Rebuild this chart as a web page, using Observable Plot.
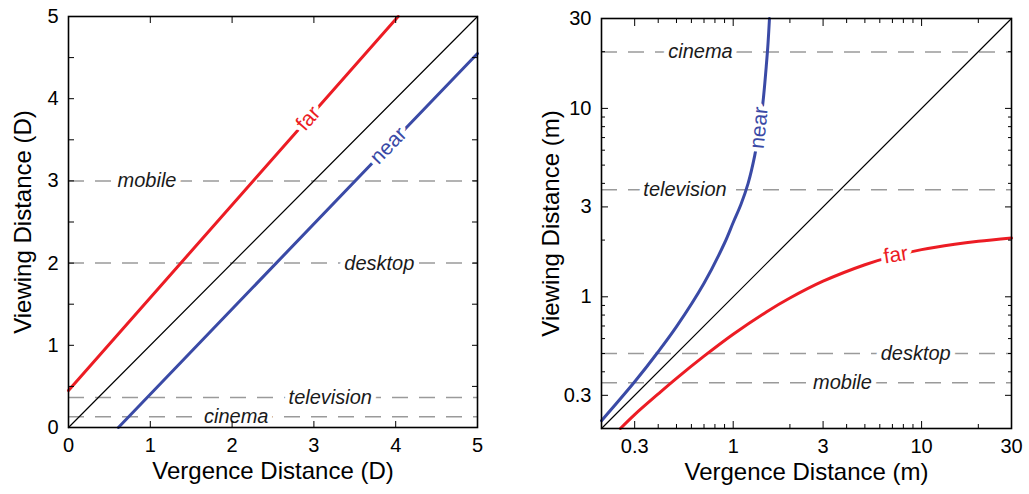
<!DOCTYPE html>
<html>
<head>
<meta charset="utf-8">
<script src="https://cdn.jsdelivr.net/npm/d3@7"></script>
<script src="https://cdn.jsdelivr.net/npm/@observablehq/plot@0.6"></script>
<style>
  html, body { margin: 0; padding: 0; background: #fff; }
  #wrap { display: flex; flex-direction: row; width: 1029px; height: 494px; }
  #wrap svg { display: block; }
</style>
</head>
<body>
<div id="wrap"></div>
<script>
// ---------- Left panel (diopters, linear) ----------
const linDiagX = [0, 5];
const linDiagY = [0, 5];
const linFarX = [0, 4.03];
const linFarY = [0.45, 5];
const linNearX = [0.61, 5];
const linNearY = [0, 4.55];
const linRefNames = ["mobile", "desktop", "television", "cinema"];
const linRefY = [3, 2, 0.365, 0.13];
const linTicksMajor = [0, 1, 2, 3, 4, 5];
const linTicksY = [0, 0.5, 1, 1.5, 2, 2.5, 3, 3.5, 4, 4.5, 5];

// ---------- Right panel (meters, log) ----------
const logDiagX = [0.2, 30];
const logDiagY = [0.2, 30];
const logFarX = [0.252, 0.3, 0.4, 0.5, 0.7, 1, 1.5, 2, 3, 5, 7, 10, 15, 20, 30];
const logFarY = [0.2, 0.237, 0.305, 0.369, 0.484, 0.633, 0.831, 0.985, 1.21, 1.48, 1.64, 1.78, 1.90, 1.97, 2.05];
const logNearX = [0.2, 0.3, 0.4, 0.5, 0.7, 0.9, 1.0, 1.1, 1.2, 1.3, 1.4, 1.45, 1.5, 1.53, 1.558];
const logNearY = [0.22, 0.354, 0.511, 0.694, 1.18, 1.93, 2.48, 3.1, 4.0, 5.6, 8.6, 11.6, 17, 22, 30];
const logRefNames = ["cinema", "television", "desktop", "mobile"];
const logRefY = [19.9, 3.7, 0.5, 0.35];
const logTicksMajor = [0.3, 1, 3, 10, 30];
const logTicksMinor = [0.2, 0.4, 0.5, 0.6, 0.7, 0.8, 0.9, 2, 4, 5, 6, 7, 8, 9, 20];

const FONT = "'Liberation Sans', Arial, Helvetica, sans-serif";
const RED = "#ec1c24";
const BLUE = "#3a4aa6";
const GRAY = "#9a9a9a";
const zip = (xs, ys) => xs.map((x, i) => ({x, y: ys[i]}));

// annotation placements
const linRefLabelX = [0.96, 3.8, 3.2, 2.05];
const logRefLabelX = [0.67, 0.555, 9.3, 3.8];

function refLabels(names, ys, xs) {
  return names.map((n, i) => ({name: n, x: xs[i], y: ys[i]}));
}

const common = {
  style: {fontFamily: FONT, fontSize: "20px", background: "white", color: "black", overflow: "visible"}
};

const titleX = (t) => Plot.text([t], {frameAnchor: "bottom", dy: 44, textAnchor: "middle", lineAnchor: "middle", fontSize: 24, fill: "black"});
const titleY = (t, dx) => Plot.text([t], {frameAnchor: "left", dx, rotate: -90, textAnchor: "middle", lineAnchor: "middle", fontSize: 24, fill: "black"});
const halo = {stroke: "white", strokeWidth: 9, paintOrder: "stroke"};

const left = Plot.plot({
  ...common,
  width: 514, height: 494,
  marginLeft: 68, marginRight: 37, marginTop: 16, marginBottom: 67,
  x: {domain: [0, 5]},
  y: {domain: [0, 5]},
  marks: [
    Plot.ruleY(linRefY, {stroke: GRAY, strokeWidth: 1.5, strokeDasharray: "16,11"}),
    Plot.text(refLabels(linRefNames, linRefY, linRefLabelX), {x: "x", y: "y", text: "name", fontStyle: "italic", fontSize: 20, fill: "#1a1a1a", ...halo, strokeWidth: 10}),
    Plot.line(zip(linDiagX, linDiagY), {x: "x", y: "y", stroke: "black", strokeWidth: 1.2}),
    Plot.line(zip(linFarX, linFarY), {x: "x", y: "y", stroke: RED, strokeWidth: 3}),
    Plot.line(zip(linNearX, linNearY), {x: "x", y: "y", stroke: BLUE, strokeWidth: 3}),
    Plot.text([{x: 2.93, y: 3.76, t: "far"}], {x: "x", y: "y", text: "t", rotate: -48.5, fill: RED, fontSize: 21, ...halo}),
    Plot.text([{x: 3.91, y: 3.43, t: "near"}], {x: "x", y: "y", text: "t", rotate: -46, fill: BLUE, fontSize: 21, ...halo}),
    Plot.frame({stroke: "black", strokeWidth: 1.6}),
    Plot.axisX(linTicksMajor, {anchor: "bottom", tickSize: -6, tickPadding: 16, fontSize: 20, label: null}),
    Plot.axisX(linTicksMajor, {anchor: "top", tickSize: -6, tickFormat: () => "", label: null}),
    Plot.axisY(linTicksY, {anchor: "left", tickSize: -6, tickPadding: 16, fontSize: 20, label: null, tickFormat: d => Number.isInteger(d) ? String(d) : ""}),
    Plot.axisY(linTicksY, {anchor: "right", tickSize: -6, tickFormat: () => "", label: null}),
    titleX("Vergence Distance (D)"),
    titleY("Viewing Distance (D)", -45)
  ]
});

const right = Plot.plot({
  ...common,
  width: 515, height: 494,
  marginLeft: 87, marginRight: 18, marginTop: 18, marginBottom: 66,
  x: {type: "log", domain: [0.2, 30]},
  y: {type: "log", domain: [0.2, 30]},
  marks: [
    Plot.ruleY(logRefY, {stroke: GRAY, strokeWidth: 1.5, strokeDasharray: "16,11"}),
    Plot.text(refLabels(logRefNames, logRefY, logRefLabelX), {x: "x", y: "y", text: "name", fontStyle: "italic", fontSize: 20, fill: "#1a1a1a", ...halo, strokeWidth: 10}),
    Plot.line(zip(logDiagX, logDiagY), {x: "x", y: "y", stroke: "black", strokeWidth: 1.2}),
    Plot.line(zip(logFarX, logFarY), {x: "x", y: "y", stroke: RED, strokeWidth: 3, curve: "catmull-rom"}),
    Plot.line(zip(logNearX, logNearY), {x: "x", y: "y", stroke: BLUE, strokeWidth: 3, curve: "catmull-rom"}),
    Plot.text([{x: 1.37, y: 7.9, t: "near"}], {x: "x", y: "y", text: "t", rotate: -84, fill: BLUE, fontSize: 21, ...halo}),
    Plot.text([{x: 7.3, y: 1.67, t: "far"}], {x: "x", y: "y", text: "t", rotate: -9, fill: RED, fontSize: 21, ...halo}),
    Plot.frame({stroke: "black", strokeWidth: 1.6}),
    Plot.axisX(logTicksMajor, {anchor: "bottom", tickSize: -7, tickFormat: () => "", label: null}),
    Plot.text(logTicksMajor, {x: d => d, frameAnchor: "bottom", dy: 10, lineAnchor: "top", textAnchor: "middle", fontSize: 20, fill: "black", text: d => String(d)}),
    Plot.axisX(logTicksMinor, {anchor: "bottom", tickSize: -4, tickFormat: () => "", label: null}),
    Plot.axisX(logTicksMajor, {anchor: "top", tickSize: -7, tickFormat: () => "", label: null}),
    Plot.axisX(logTicksMinor, {anchor: "top", tickSize: -4, tickFormat: () => "", label: null}),
    Plot.axisY(logTicksMajor, {anchor: "left", tickSize: -7, tickPadding: 17, fontSize: 20, label: null, tickFormat: d => String(d)}),
    Plot.axisY(logTicksMinor, {anchor: "left", tickSize: -4, tickFormat: () => "", label: null}),
    Plot.axisY(logTicksMajor, {anchor: "right", tickSize: -7, tickFormat: () => "", label: null}),
    Plot.axisY(logTicksMinor, {anchor: "right", tickSize: -4, tickFormat: () => "", label: null}),
    titleX("Vergence Distance (m)"),
    titleY("Viewing Distance (m)", -50)
  ]
});

document.getElementById("wrap").append(left, right);
</script>
</body>
</html>
